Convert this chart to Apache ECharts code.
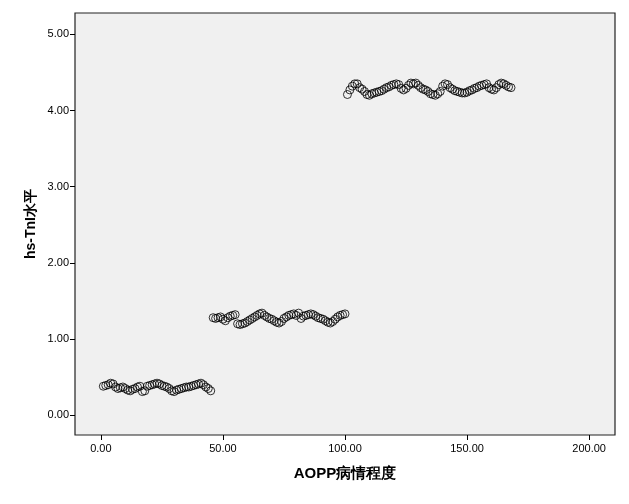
<!DOCTYPE html>
<html><head><meta charset="utf-8">
<script src="https://cdn.jsdelivr.net/npm/echarts@6/dist/echarts.min.js"></script>
<style>html,body{margin:0;padding:0;background:#fff;}#c{width:629px;height:504px;}</style>
</head><body><div id="c"></div>
<script>
const xTicks = [0, 50, 100, 150, 200];
const yTicks = [0, 1, 2, 3, 4, 5];
const xName = 'AOPP病情程度';
const yName = 'hs-TnI水平';

const group1X = [];
for (let i = 1; i <= 45; i++) group1X.push(i);
const group1Y = [0.38,0.39,0.40,0.42,0.41,0.37,0.35,0.36,0.37,0.35,0.33,0.32,0.34,0.35,0.37,0.38,0.31,0.32,0.38,0.39,0.40,0.41,0.42,0.41,0.39,0.38,0.37,0.35,0.32,0.31,0.33,0.34,0.35,0.36,0.37,0.37,0.38,0.39,0.40,0.41,0.42,0.40,0.37,0.35,0.32];

const group2X = [];
for (let i = 46; i <= 100; i++) group2X.push(i);
const group2Y = [1.28,1.27,1.28,1.29,1.26,1.24,1.28,1.30,1.31,1.32,1.20,1.19,1.20,1.21,1.23,1.25,1.27,1.29,1.31,1.33,1.34,1.31,1.29,1.27,1.26,1.24,1.22,1.21,1.23,1.27,1.29,1.31,1.32,1.33,1.31,1.34,1.27,1.30,1.31,1.32,1.33,1.32,1.30,1.28,1.27,1.26,1.24,1.22,1.21,1.23,1.26,1.29,1.31,1.32,1.33];

const group3X = [];
for (let i = 101; i <= 168; i++) group3X.push(i);
const group3Y = [4.21,4.27,4.32,4.35,4.35,4.30,4.28,4.25,4.21,4.20,4.22,4.23,4.24,4.25,4.26,4.28,4.30,4.31,4.33,4.34,4.35,4.34,4.29,4.27,4.29,4.33,4.36,4.35,4.36,4.33,4.30,4.28,4.27,4.25,4.22,4.21,4.20,4.22,4.25,4.32,4.35,4.34,4.30,4.28,4.26,4.25,4.24,4.23,4.23,4.24,4.26,4.27,4.29,4.30,4.32,4.33,4.34,4.35,4.30,4.28,4.27,4.30,4.34,4.36,4.35,4.33,4.31,4.30];

const pts = [];
[[group1X,group1Y],[group2X,group2Y],[group3X,group3Y]].forEach(([xs,ys])=>{
  xs.forEach((x,i)=>pts.push([x, ys[i]]));
});

const chart = echarts.init(document.getElementById('c'), null, {renderer:'canvas'});
chart.setOption({
  animation: false,
  backgroundColor: '#fff',
  grid: {left: 75, right: 14, top: 13, bottom: 69, show: true, backgroundColor: '#f0f0f0', borderColor: '#222', borderWidth: 1.2},
  xAxis: {
    type: 'value', min: -10.6, max: 210.6,
    name: xName, nameLocation: 'middle', nameGap: 31, nameMoveOverlap: false,
    nameTextStyle: {fontFamily: 'Liberation Sans, Arial', fontWeight: 'bold', fontSize: 15, color: '#000'},
    axisLine: {show: false, onZero: false},
    splitLine: {show: false},
    axisTick: {show: true, length: 5, lineStyle: {color: '#000', width: 1}, customValues: xTicks},
    axisLabel: {customValues: xTicks, formatter: v => v.toFixed(2), color: '#000', fontSize: 11, fontFamily: 'Liberation Sans, Arial', margin: 8}
  },
  yAxis: {
    type: 'value', min: -0.26, max: 5.28,
    name: yName, nameLocation: 'middle', nameGap: 37, nameRotate: 90, nameMoveOverlap: false,
    nameTextStyle: {fontFamily: 'Liberation Sans, Arial', fontWeight: 'bold', fontSize: 14, color: '#000'},
    axisLine: {show: false, onZero: false},
    splitLine: {show: false},
    axisTick: {show: true, length: 5, lineStyle: {color: '#000', width: 1}, customValues: yTicks},
    axisLabel: {customValues: yTicks, formatter: v => v.toFixed(2), color: '#000', fontSize: 11, fontFamily: 'Liberation Sans, Arial', margin: 6}
  },
  series: [{
    type: 'scatter',
    data: pts,
    symbol: 'circle',
    symbolSize: 8,
    itemStyle: {color: 'rgba(0,0,0,0)', borderColor: '#000', borderWidth: 1}
  }]
});
</script></body></html>
